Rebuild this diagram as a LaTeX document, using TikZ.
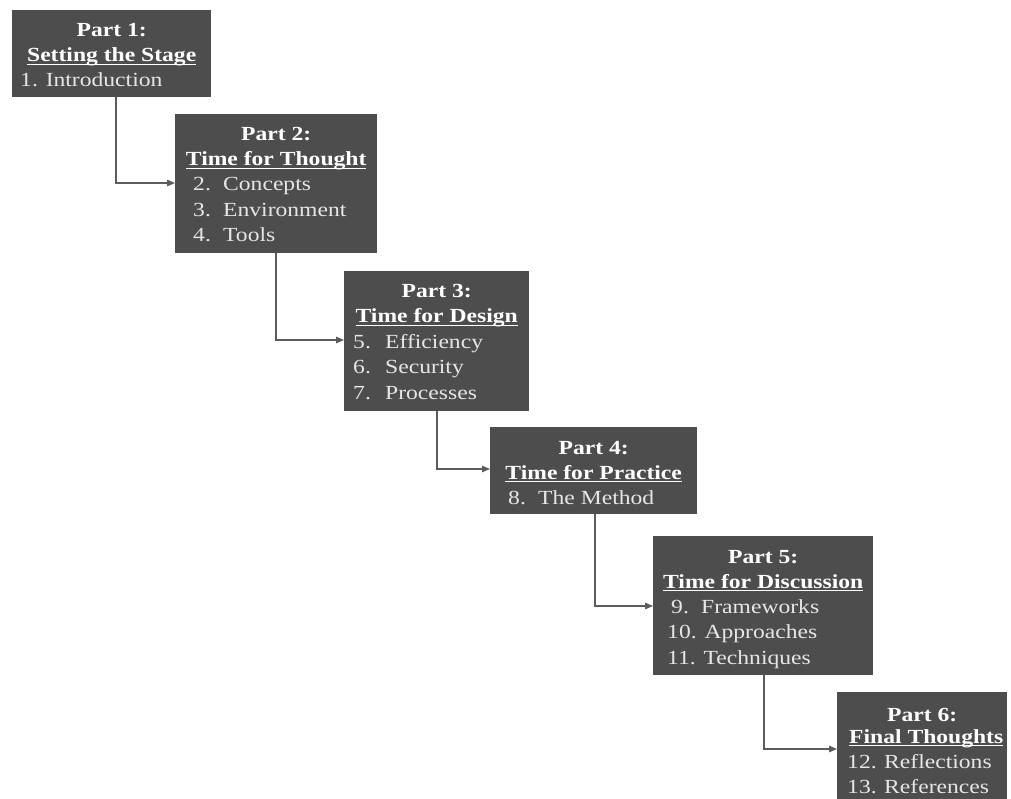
\documentclass[tikz,border=0pt]{standalone}
\usepackage{fontspec}
\setmainfont{Liberation Serif}[FakeStretch=1.18]
\usetikzlibrary{arrows.meta}

\definecolor{boxfill}{HTML}{4D4D4D}
\definecolor{itemgray}{HTML}{E6E6E6}
\definecolor{linkgray}{HTML}{5C5C5C}

% underlined heading: a thin rule just below the baseline
\newcommand\ulinetext[1]{\sbox0{#1}\rlap{\rule[-3pt]{\wd0}{1.2pt}}\usebox0}
% numbered entry: number in a fixed-width slot, then the title
\newcommand\numitem[3]{\makebox[#1][l]{#2}#3}

\tikzset{
  partbox/.style={fill=boxfill, draw=none, inner sep=0pt, anchor=north west},
  headtext/.style={text=white, font=\fontsize{20}{24}\selectfont\bfseries, inner sep=0pt, anchor=base},
  itemtext/.style={text=itemgray, font=\fontsize{20}{24}\selectfont, inner sep=0pt, anchor=base west},
  link/.style={draw=linkgray, line width=1.3pt, -{Triangle[length=8pt,width=6.5pt]}},
}

\begin{document}
\begin{tikzpicture}[x=1pt,y=-1pt]
\useasboundingbox (0,0) rectangle (1011,799);
\clip (0,0) rectangle (1011,799);

% Part 1
\node[partbox, minimum width=199pt, minimum height=87pt] (b1) at (12,10) {};
\node[headtext, yshift=-27pt] (b1p) at (b1.north) {Part 1:};
\node[headtext, yshift=-52pt] (b1s) at (b1.north) {\ulinetext{Setting the Stage}};
\node[itemtext, xshift=8pt, yshift=-77pt] (b1i1) at (b1.north west) {1. Introduction};

% Part 2
\node[partbox, minimum width=202pt, minimum height=139pt] (b2) at (175,114) {};
\node[headtext, yshift=-27pt] (b2p) at (b2.north) {Part 2:};
\node[headtext, yshift=-52pt] (b2s) at (b2.north) {\ulinetext{Time for Thought}};
\node[itemtext, xshift=18pt, yshift=-77pt] (b2i1) at (b2.north west) {\numitem{30pt}{2.}{Concepts}};
\node[itemtext, xshift=18pt, yshift=-102.5pt] (b2i2) at (b2.north west) {\numitem{30pt}{3.}{Environment}};
\node[itemtext, xshift=18pt, yshift=-128pt] (b2i3) at (b2.north west) {\numitem{30pt}{4.}{Tools}};

% Part 3
\node[partbox, minimum width=185pt, minimum height=140pt] (b3) at (344,271) {};
\node[headtext, yshift=-27pt] (b3p) at (b3.north) {Part 3:};
\node[headtext, yshift=-52pt] (b3s) at (b3.north) {\ulinetext{Time for Design}};
\node[itemtext, xshift=9pt, yshift=-77pt] (b3i1) at (b3.north west) {\numitem{32pt}{5.}{Efficiency}};
\node[itemtext, xshift=9pt, yshift=-102.5pt] (b3i2) at (b3.north west) {\numitem{32pt}{6.}{Security}};
\node[itemtext, xshift=9pt, yshift=-128pt] (b3i3) at (b3.north west) {\numitem{32pt}{7.}{Processes}};

% Part 4
\node[partbox, minimum width=207pt, minimum height=87pt] (b4) at (490,427) {};
\node[headtext, yshift=-27pt] (b4p) at (b4.north) {Part 4:};
\node[headtext, yshift=-52pt] (b4s) at (b4.north) {\ulinetext{Time for Practice}};
\node[itemtext, xshift=18pt, yshift=-77pt] (b4i1) at (b4.north west) {\numitem{30pt}{8.}{The Method}};

% Part 5
\node[partbox, minimum width=220pt, minimum height=139pt] (b5) at (653,536) {};
\node[headtext, yshift=-27pt] (b5p) at (b5.north) {Part 5:};
\node[headtext, yshift=-52pt] (b5s) at (b5.north) {\ulinetext{Time for Discussion}};
\node[itemtext, xshift=18pt, yshift=-77pt] (b5i1) at (b5.north west) {\numitem{30pt}{9.}{Frameworks}};
\node[itemtext, xshift=14pt, yshift=-102.5pt] (b5i2) at (b5.north west) {10. Approaches};
\node[itemtext, xshift=14pt, yshift=-128pt] (b5i3) at (b5.north west) {11. Techniques};

% Part 6 (runs past the lower edge)
\node[partbox, minimum width=170pt, minimum height=139pt] (b6) at (837,692) {};
\node[headtext, yshift=-29pt] (b6p) at (b6.north) {Part 6:};
\node[headtext, xshift=4pt, yshift=-51pt] (b6s) at (b6.north) {\ulinetext{Final Thoughts}};
\node[itemtext, xshift=10pt, yshift=-76pt] (b6i1) at (b6.north west) {\numitem{37pt}{12.}{Reflections}};
\node[itemtext, xshift=10pt, yshift=-101pt] (b6i2) at (b6.north west) {\numitem{37pt}{13.}{References}};

% elbow connectors between consecutive parts
\coordinate (k1) at (116,183);
\coordinate (k2) at (276,340);
\coordinate (k3) at (437,469);
\coordinate (k4) at (595,606);
\coordinate (k5) at (764,749);
\draw[link] (b1.south -| k1) -- (k1) -- (b2.west |- k1);
\draw[link] (b2.south -| k2) -- (k2) -- (b3.west |- k2);
\draw[link] (b3.south -| k3) -- (k3) -- (b4.west |- k3);
\draw[link] (b4.south -| k4) -- (k4) -- (b5.west |- k4);
\draw[link] (b5.south -| k5) -- (k5) -- (b6.west |- k5);
\end{tikzpicture}
\end{document}
